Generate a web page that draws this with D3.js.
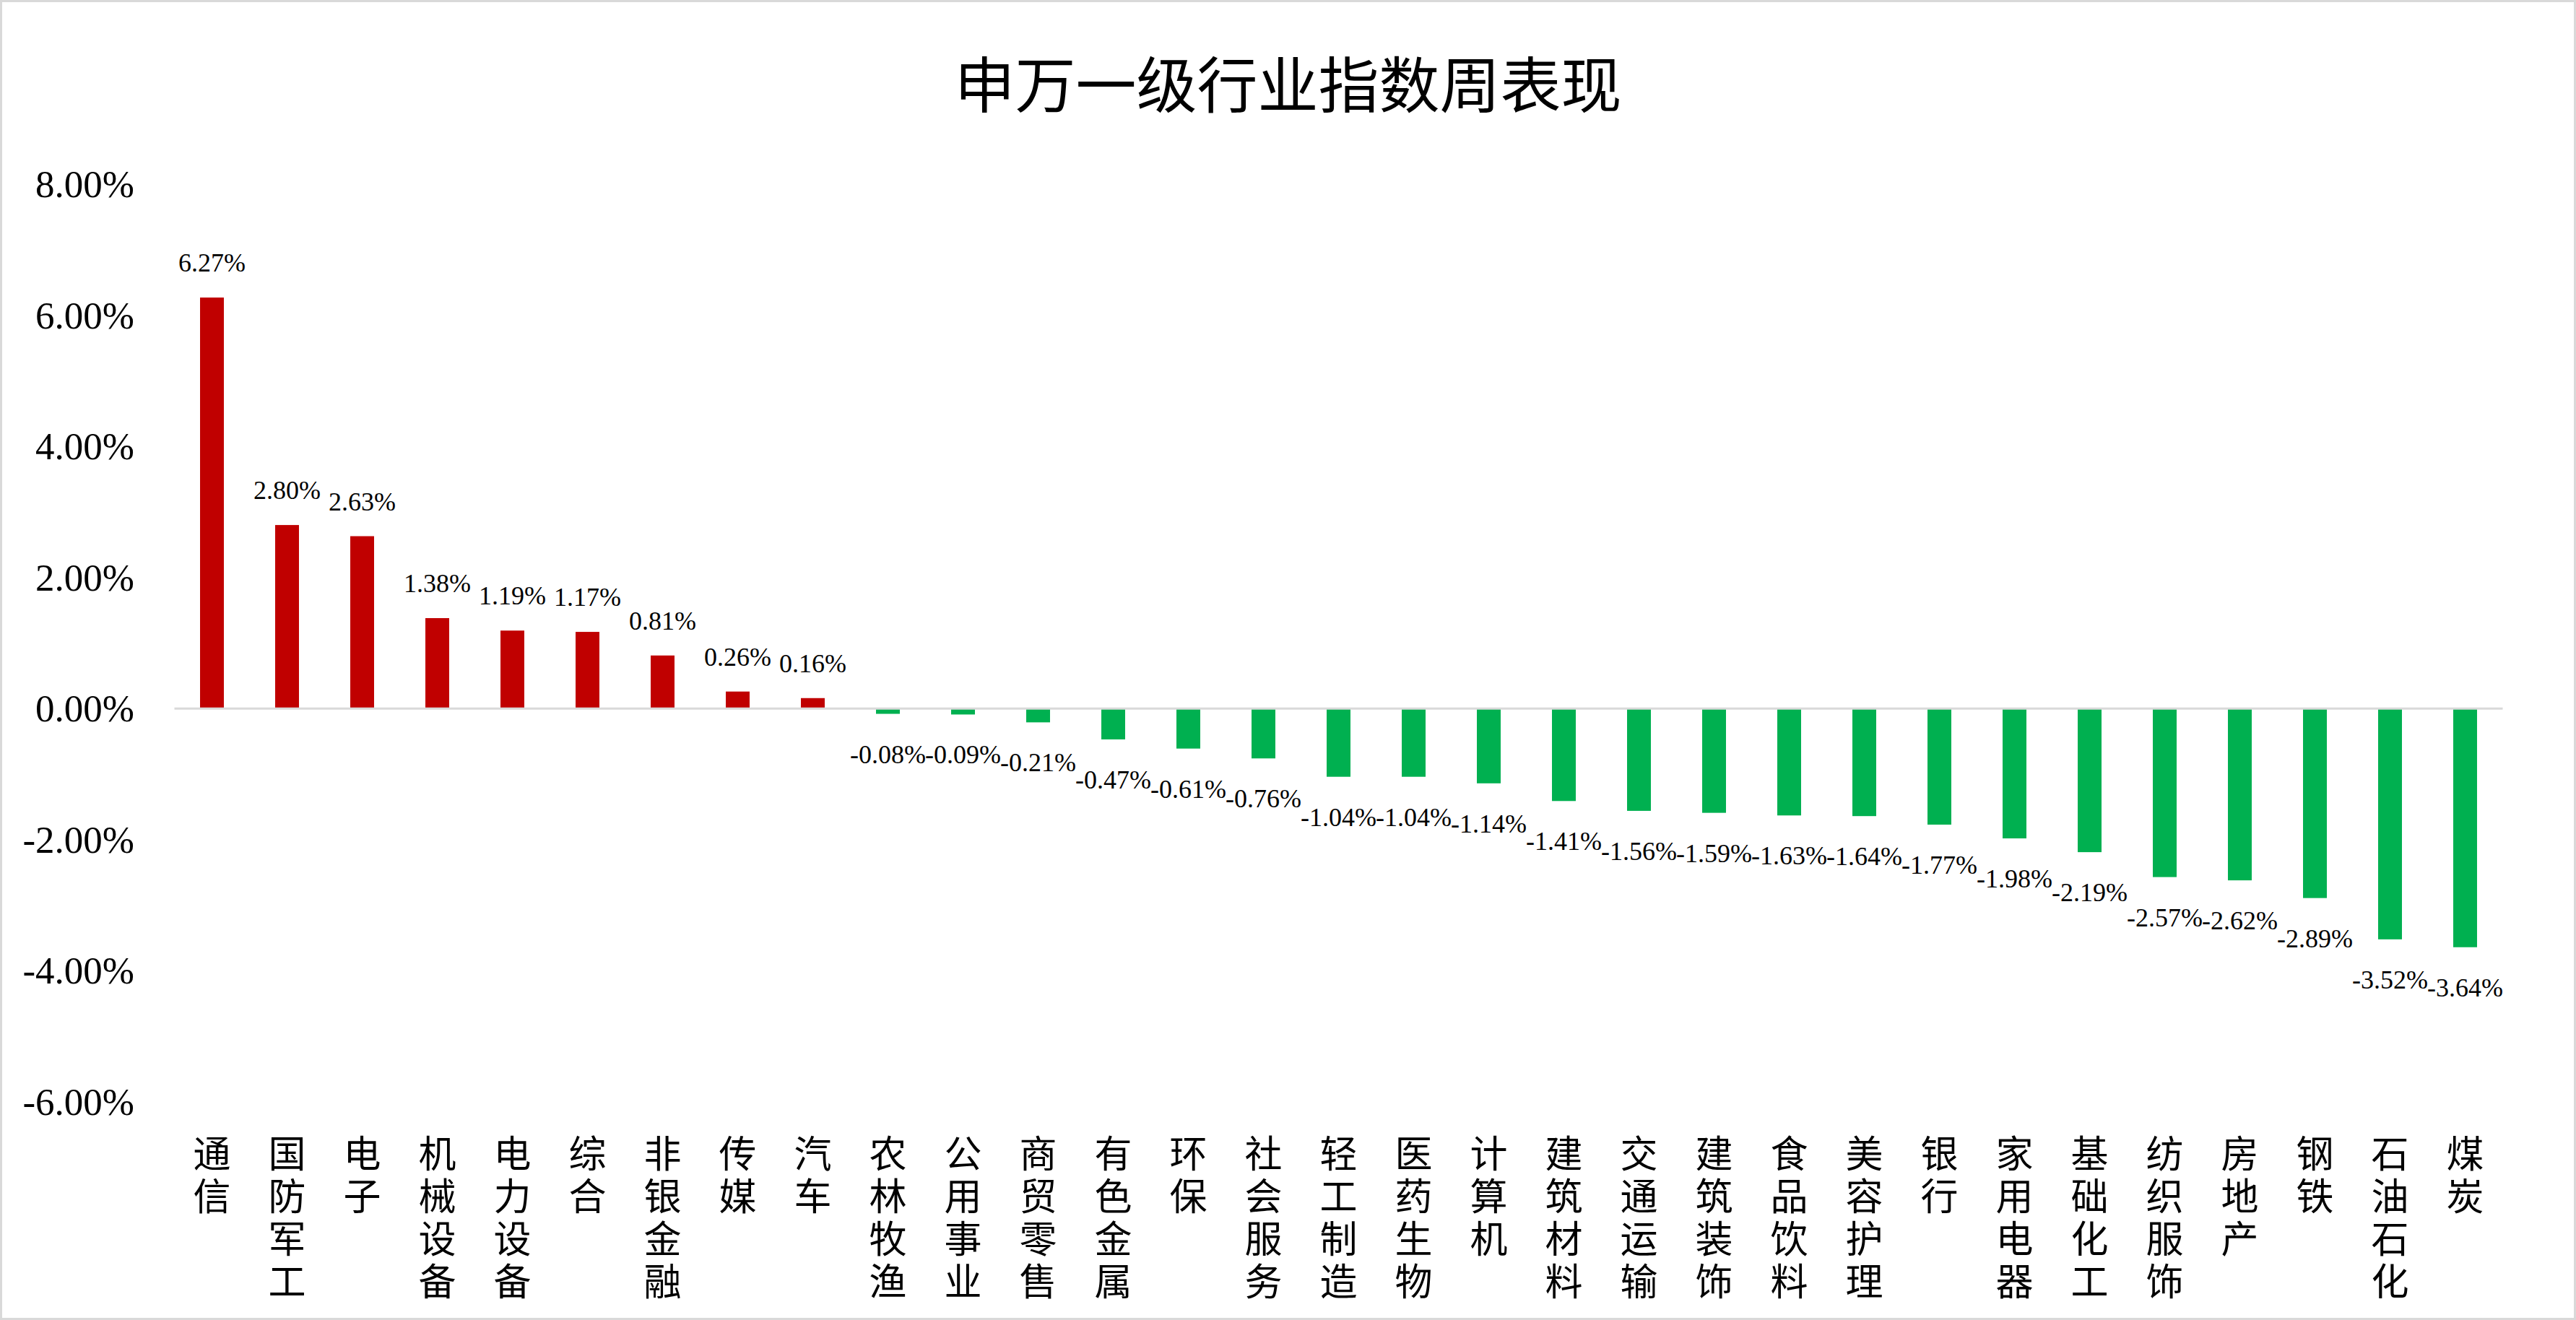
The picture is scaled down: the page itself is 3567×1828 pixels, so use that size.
<!DOCTYPE html>
<html>
<head>
<meta charset="utf-8">
<script src="https://cdn.jsdelivr.net/npm/d3@7"></script>
<style>
  body { margin: 0; background: #fff; }
</style>
</head>
<body>
<script>
var width = 3567,
    height = 1828;

var categories = ['通信','国防军工','电子','机械设备','电力设备','综合','非银金融','传媒','汽车',
  '农林牧渔','公用事业','商贸零售','有色金属','环保','社会服务','轻工制造','医药生物','计算机',
  '建筑材料','交通运输','建筑装饰','食品饮料','美容护理','银行','家用电器','基础化工','纺织服饰',
  '房地产','钢铁','石油石化','煤炭'];

var values = [6.27, 2.80, 2.63, 1.38, 1.19, 1.17, 0.81, 0.26, 0.16,
  -0.08, -0.09, -0.21, -0.47, -0.61, -0.76, -1.04, -1.04, -1.14,
  -1.41, -1.56, -1.59, -1.63, -1.64, -1.77, -1.98, -2.19, -2.57,
  -2.62, -2.89, -3.52, -3.64];

var yTicks = [8, 6, 4, 2, 0, -2, -4, -6];

var title = '申万一级行业指数周表现';

var serif = '"Liberation Serif", "Times New Roman", serif',
    cjk = '"Noto Sans CJK SC", sans-serif';

var svg = d3.select('body')
  .append('svg')
    .attr('width', width)
    .attr('height', height)

// outer frame
svg.append('rect')
    .attr('x', 1.5)
    .attr('y', 1.5)
    .attr('width', width - 3)
    .attr('height', height - 3)
    .attr('fill', '#fff')
    .attr('stroke', '#d9d9d9')
    .attr('stroke-width', 3)

svg.append('text')
    .attr('x', width / 2)
    .attr('y', 149)
    .attr('text-anchor', 'middle')
    .attr('font-family', cjk)
    .attr('font-size', 84)
    .text(title)

var x = d3.scaleBand()
    .domain(categories)
    .range([241.5, 241.5 + 104 * categories.length])
    .paddingInner(0.683)
    .paddingOuter(0.3415)

var y = d3.scaleLinear()
    .domain([-6, 8])
    .range([1526, 255])

// y labels
svg.selectAll('.ytick')
    .data(yTicks).enter()
  .append('text')
    .attr('class', 'ytick')
    .attr('x', 186)
    .attr('y', function(d){ return y(d); })
    .attr('dy', '0.34em')
    .attr('text-anchor', 'end')
    .attr('font-family', serif)
    .attr('font-size', 53)
    .text(function(d){ return d.toFixed(2) + '%'; })

// bars
svg.selectAll('.bar')
    .data(values).enter()
  .append('rect')
    .attr('class', 'bar')
    .attr('x', function(d, i){ return x(categories[i]); })
    .attr('width', x.bandwidth())
    .attr('y', function(d){ return y(Math.max(0, d)); })
    .attr('height', function(d){ return Math.abs(y(d) - y(0)); })
    .attr('fill', function(d){ return d >= 0 ? '#C00000' : '#00B050'; })

// zero line
svg.append('line')
    .attr('x1', x.range()[0])
    .attr('x2', x.range()[1])
    .attr('y1', y(0))
    .attr('y2', y(0))
    .attr('stroke', '#d9d9d9')
    .attr('stroke-width', 3)

// value labels
svg.selectAll('.val')
    .data(values).enter()
  .append('text')
    .attr('class', 'val')
    .attr('x', function(d, i){ return x(categories[i]) + x.bandwidth() / 2; })
    .attr('y', function(d){ return d >= 0 ? y(d) - 36 : y(d) + 68; })
    .attr('text-anchor', 'middle')
    .attr('font-family', serif)
    .attr('font-size', 36)
    .text(function(d){ return d.toFixed(2) + '%'; })

// category labels, one character per line
var cat = svg.selectAll('.cat')
    .data(categories).enter()
  .append('text')
    .attr('class', 'cat')
    .attr('text-anchor', 'middle')
    .attr('font-family', cjk)
    .attr('font-size', 52)

cat.selectAll('tspan')
    .data(function(d){ return d.split('').map(function(c){ return {c: c, k: d}; }); }).enter()
  .append('tspan')
    .attr('x', function(d){ return x(d.k) + x.bandwidth() / 2; })
    .attr('y', function(d, i){ return 1617 + i * 59; })
    .text(function(d){ return d.c; })
</script>
</body>
</html>
